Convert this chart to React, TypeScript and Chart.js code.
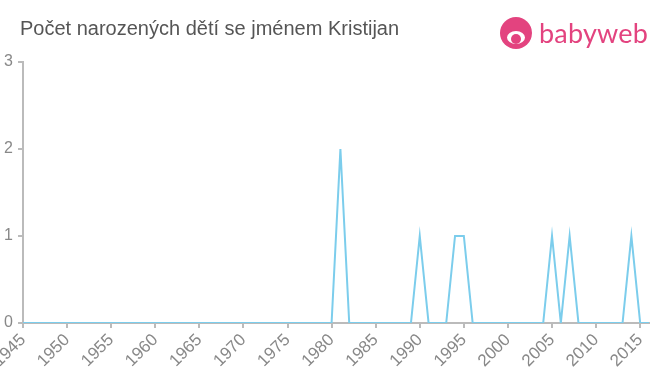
import React, { useEffect, useRef } from "react";
import { Chart, registerables } from "chart.js";

Chart.register(...registerables);

const title = "Počet narozených dětí se jménem Kristijan";
const years = [1945, 1980, 1981, 1982, 1989, 1990, 1991, 1993, 1994, 1995, 1996, 2004, 2005, 2006, 2007, 2008, 2013, 2014, 2015, 2016];
const counts = [0, 0, 2, 0, 0, 1, 0, 0, 1, 1, 0, 0, 1, 0, 1, 0, 0, 1, 0, 0];
const xMin = 1945;
const xMax = 2016;
const xTickStep = 5;
const yTicks = [0, 1, 2, 3];

export default function App() {
  const ref = useRef<HTMLCanvasElement | null>(null);
  useEffect(() => {
    if (!ref.current) return;
    const axisColor = "#bbbbbb";
    const tickColor = "#888888";
    const chart = new Chart(ref.current, {
      type: "line",
      data: {
        datasets: [
          {
            data: years.map((y, i) => ({ x: y, y: counts[i] })),
            borderColor: "#7ccdec",
            borderWidth: 2,
            pointRadius: 0,
            tension: 0,
            fill: false,
          },
        ],
      },
      options: {
        animation: false,
        responsive: false,
        maintainAspectRatio: false,
        layout: { padding: { top: 62, right: 11, left: 0, bottom: 0 } },
        plugins: { legend: { display: false }, tooltip: { enabled: false }, title: { display: false } },
        scales: {
          x: {
            type: "linear",
            min: xMin,
            max: xMax,
            afterBuildTicks: (axis: any) => {
              const t: any[] = [];
              for (let v = xMin; v <= xMax; v += xTickStep) t.push({ value: v });
              axis.ticks = t;
            },
            afterFit: (axis: any) => {
              axis.height = 52;
              axis.paddingLeft = 0;
              axis.paddingRight = 0;
            },
            ticks: {
              autoSkip: false,
              maxRotation: 45,
              minRotation: 45,
              color: tickColor,
              padding: 2,
              font: { family: "'Liberation Sans', Arial, sans-serif", size: 17 },
              callback: (v: any) => String(v),
            },
            grid: { drawOnChartArea: false, drawTicks: true, tickLength: 5, color: axisColor, lineWidth: 2 },
            border: { color: axisColor, width: 2 },
          },
          y: {
            type: "linear",
            min: 0,
            max: 3,
            afterBuildTicks: (axis: any) => {
              axis.ticks = yTicks.map((v) => ({ value: v }));
            },
            afterFit: (axis: any) => {
              axis.width = 23;
              axis.paddingTop = 0;
              axis.paddingBottom = 0;
            },
            ticks: {
              color: tickColor,
              padding: 5,
              font: { family: "'Liberation Sans', Arial, sans-serif", size: 16 },
            },
            grid: { drawOnChartArea: false, drawTicks: true, tickLength: 5, color: axisColor, lineWidth: 2 },
            border: { color: axisColor, width: 2 },
          },
        },
      },
    } as any);
    return () => chart.destroy();
  }, []);

  return (
    <div style={{ position: "fixed", left: 0, top: 0, width: 660, height: 375, background: "#fff", overflow: "hidden" }}>
      <canvas ref={ref} width={660} height={375} style={{ position: "absolute", left: 0, top: 0, width: 660, height: 375 }} />
      <div
        style={{
          position: "absolute",
          left: 20,
          top: 17,
          fontFamily: "'Liberation Sans', Arial, sans-serif",
          fontSize: 20,
          color: "#555555",
          whiteSpace: "nowrap",
        }}
      >
        {title}
      </div>
      <div style={{ position: "absolute", left: 500, top: 15, height: 36, display: "flex", alignItems: "center" }}>
        <div style={{ position: "relative", width: 32, height: 32 }}>
          <div style={{ position: "absolute", left: 0, top: 0, width: 32, height: 32, borderRadius: "50%", background: "#e3437f" }} />
          <div style={{ position: "absolute", left: 7, top: 14, width: 18, height: 13, borderRadius: "50%", background: "#fff" }} />
          <div style={{ position: "absolute", left: 11, top: 17, width: 10, height: 10, borderRadius: "50%", background: "#e3437f" }} />
        </div>
        <div
          style={{
            marginLeft: 7,
            fontFamily: "Lato, 'Open Sans', sans-serif",
            fontSize: 27,
            color: "#e3437f",
            lineHeight: "36px",
            letterSpacing: 0.2,
          }}
        >
          babyweb
        </div>
      </div>
    </div>
  );
}
